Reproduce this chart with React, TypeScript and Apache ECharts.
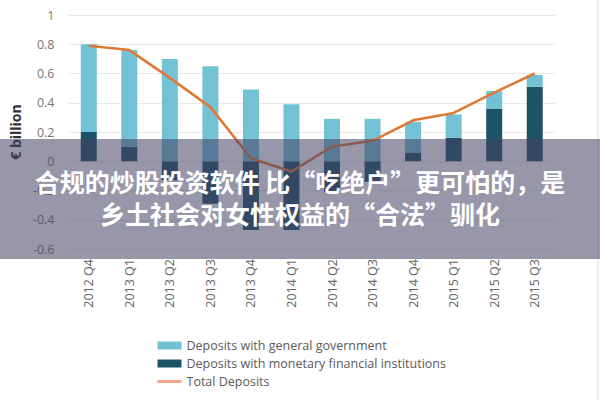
import { useEffect, useRef } from 'react'

import * as echarts from 'echarts'

const categories = [
  '2012 Q4', '2013 Q1', '2013 Q2', '2013 Q3', '2013 Q4', '2014 Q1',
  '2014 Q2', '2014 Q3', '2014 Q4', '2015 Q1', '2015 Q2', '2015 Q3',
]
// deposits with general government (light bars)
const govDeposits = [0.6, 0.66, 0.7, 0.65, 0.49, 0.39, 0.29, 0.29, 0.21, 0.16, 0.12, 0.08]
// deposits with monetary financial institutions (dark bars)
const mfiDeposits = [0.2, 0.1, -0.13, -0.29, -0.47, -0.47, -0.21, -0.14, 0.06, 0.16, 0.36, 0.51]
const totalDeposits = [0.79, 0.76, 0.57, 0.37, 0.02, -0.07, 0.1, 0.14, 0.28, 0.33, 0.47, 0.6]

const seriesNames = [
  'Deposits with general government',
  'Deposits with monetary financial institutions',
  'Total Deposits',
]
const titleLines = ['合规的炒股投资软件 比“吃绝户”更可怕的，是', '乡土社会对女性权益的“合法”驯化']

const font = '"Open Sans", "Noto Sans", sans-serif'

export default function App() {
  const main = useRef<HTMLDivElement>(null)
  useEffect(() => {
    const option = {
      animation: false,
      backgroundColor: '#fff',
      grid: { left: 63, top: 15, width: 492, height: 234, containLabel: false },
      legend: {
        orient: 'vertical',
        left: 156,
        top: 339,
        padding: 0,
        itemWidth: 24,
        itemHeight: 8,
        itemGap: 5,
        data: [
          { name: seriesNames[0], icon: 'rect' },
          { name: seriesNames[1], icon: 'rect' },
          {
            name: seriesNames[2],
            itemStyle: { opacity: 0 },
            lineStyle: { color: '#f2a585', width: 3 },
          },
        ],
        textStyle: { color: '#5a5a5a', fontSize: 12.5, fontFamily: font },
      },
      xAxis: {
        type: 'category',
        data: categories,
        axisLine: { show: false },
        axisTick: { show: false },
        axisLabel: { rotate: 90, color: '#666', fontSize: 12.5, fontFamily: font, margin: 10 },
      },
      yAxis: {
        type: 'value',
        min: -0.6,
        max: 1,
        interval: 0.2,
        name: '€ billion',
        nameLocation: 'middle',
        nameGap: 43,
        nameTextStyle: { color: '#333', fontSize: 14, fontWeight: 'bold', fontFamily: font },
        axisLine: { show: false },
        axisTick: { show: false },
        axisLabel: { color: '#777', fontSize: 12.5, fontFamily: font, margin: 14 },
        splitLine: { lineStyle: { color: '#e8e8e8', width: 1 } },
      },
      series: [
        {
          name: seriesNames[1],
          type: 'bar',
          stack: 'dep',
          barWidth: 16,
          data: mfiDeposits,
          itemStyle: { color: '#1d5366' },
        },
        {
          name: seriesNames[0],
          type: 'bar',
          stack: 'dep',
          barWidth: 16,
          data: govDeposits,
          itemStyle: { color: '#72c1d5' },
        },
        {
          name: seriesNames[2],
          type: 'line',
          data: totalDeposits,
          symbol: 'none',
          itemStyle: { color: '#e07835' },
          lineStyle: { color: '#e07835', width: 2.5 },
          z: 5,
        },
      ],
      graphic: [
        {
          type: 'line',
          shape: { x1: 598, y1: 0, x2: 598, y2: 400 },
          style: { stroke: '#dcdcdc', lineWidth: 1 },
          z: 50,
        },
        {
          type: 'rect',
          shape: { x: 0, y: 139, width: 600, height: 120 },
          style: { fill: 'rgba(68, 64, 98, 0.55)' },
          z: 100,
        },
        ...titleLines.map((t, i) => ({
          type: 'text',
          x: 300,
          y: 181 + i * 32,
          z: 101,
          style: {
            text: t,
            fill: '#fff',
            font: 'bold 25px "Noto Sans CJK SC"',
            lineHeight: 27,
            textAlign: 'center',
            textVerticalAlign: 'middle',
          },
        })),
      ],
    }
    const myCharts = echarts.init(main.current, null, { renderer: 'svg' })
    myCharts.setOption(option)
    return () => {
      myCharts.dispose()
    }
  }, [])
  return (
    <>
      <div
        ref={main}
        style={{ position: 'fixed', left: 0, top: 0, width: '600px', height: '400px' }}
      ></div>
    </>
  )
}
